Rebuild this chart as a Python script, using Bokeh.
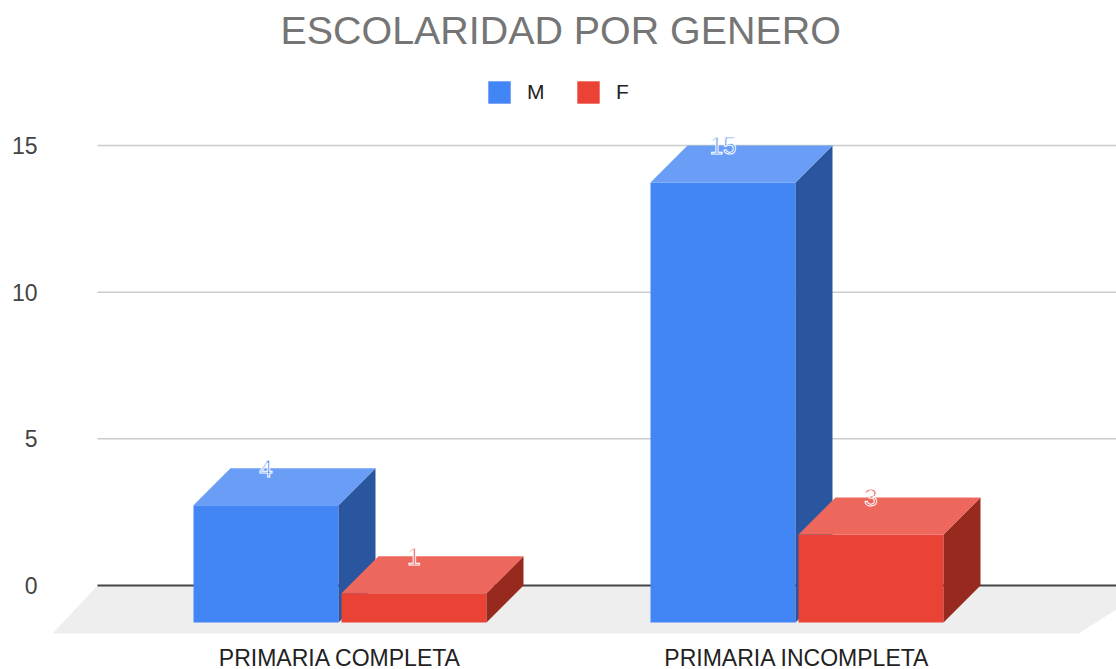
from bokeh.plotting import figure
from bokeh.models import ColumnDataSource, Range1d, FixedTicker, Legend, LegendItem
from bokeh.embed import file_html
from bokeh.resources import INLINE

categories = ["PRIMARIA COMPLETA", "PRIMARIA INCOMPLETA"]
series_m = [4, 15]
series_f = [1, 3]
y_ticks = [0, 5, 10, 15]
title_text = "ESCOLARIDAD POR GENERO"

W, H = 1116, 673
FL, FR, FT, FB = 40, 1116, 56, 637   # plot frame in page pixels
CX0, CSTEP = 339.5, 457.0            # pixel centre of the first group, group step
Y0, PXY = 585.0, 29.33               # pixel of value 0, pixels per unit
BW = 145.0 / CSTEP                   # bar width in x units
GAP = 3.0 / CSTEP
DX = 37.0 / CSTEP                    # 3-D depth, x units
DY = 37.0 / PXY                      # 3-D depth, y units

p = figure(width=W, height=H, output_backend="svg", toolbar_location=None,
           x_range=Range1d((FL - CX0) / CSTEP, (FR - CX0) / CSTEP),
           y_range=Range1d((Y0 - FB) / PXY, (Y0 - FT) / PXY),
           min_border_left=FL, min_border_right=0, min_border_top=FT, min_border_bottom=H - FB,
           outline_line_color=None, margin=(0, 0, -4, 0))

p.title.text = title_text
p.title.text_font = "Liberation Sans"
p.title.text_font_size = "39.4px"
p.title.text_font_style = "normal"
p.title.text_color = "#757575"
p.title.align = "left"
p.title.offset = 240

# axes
n = len(categories)
p.xaxis.ticker = FixedTicker(ticks=list(range(n)))
p.xaxis.major_label_overrides = {i: c for i, c in enumerate(categories)}
p.xaxis.axis_line_color = None
p.xaxis.major_tick_line_color = None
p.xaxis.minor_tick_line_color = None
p.xaxis.major_tick_out = 0
p.xaxis.minor_tick_out = 0
p.xaxis.major_label_text_font = "Liberation Sans"
p.xaxis.major_label_text_font_size = "23px"
p.xaxis.major_label_text_color = "#222222"
p.xaxis.major_label_standoff = 7

p.yaxis.ticker = FixedTicker(ticks=y_ticks)
p.yaxis.axis_line_color = None
p.yaxis.major_tick_line_color = None
p.yaxis.minor_tick_line_color = None
p.yaxis.major_tick_out = 0
p.yaxis.minor_tick_out = 0
p.yaxis.major_label_text_font = "Liberation Sans"
p.yaxis.major_label_text_font_size = "23px"
p.yaxis.major_label_text_color = "#444444"
p.yaxis.major_label_standoff = 3

p.xgrid.visible = False
p.ygrid.visible = False

gx0, gx1 = (97 - CX0) / CSTEP, (FR - CX0) / CSTEP

# floor
fx_back_r = (FR + 38 - CX0) / CSTEP
fx_front_l, fx_front_r = (52 - CX0) / CSTEP, (1078 - CX0) / CSTEP
fy_front = (Y0 - 633) / PXY
p.patch([gx0, fx_back_r, fx_front_r, fx_front_l], [0, 0, fy_front, fy_front],
        fill_color="#eeeeee", line_color=None)

# gridlines, then the dark zero line
grid_vals = [t for t in y_ticks if t != 0]
p.segment([gx0] * len(grid_vals), grid_vals, [gx1] * len(grid_vals), grid_vals,
          line_color="#cccccc", line_width=1.5)
p.segment([gx0], [0], [gx1], [0], line_color="#444444", line_width=2)


def faces(values, offset, front, top, side):
    src_front = ColumnDataSource(dict(
        left=[i + offset for i in range(n)],
        right=[i + offset + BW for i in range(n)],
        top=[v - DY for v in values],
        bottom=[-DY] * n))
    r = p.quad(left="left", right="right", top="top", bottom="bottom", source=src_front,
               fill_color=front, line_color=None)
    xs_top, ys_top, xs_side, ys_side = [], [], [], []
    for i, v in enumerate(values):
        l, rr = i + offset, i + offset + BW
        xs_top.append([l, rr, rr + DX, l + DX])
        ys_top.append([v - DY, v - DY, v, v])
        xs_side.append([rr, rr + DX, rr + DX, rr])
        ys_side.append([-DY, 0, v, v - DY])
    p.patches(xs_side, ys_side, fill_color=side, line_color=None)
    p.patches(xs_top, ys_top, fill_color=top, line_color=None)
    lab = ColumnDataSource(dict(x=[i + offset + BW / 2 for i in range(n)], y=values,
                                t=[str(v) for v in values]))
    return r, lab, front


r_m, lab_m, col_m = faces(series_m, -GAP / 2 - BW, "#4285f4", "#6a9df6", "#2a56a0")
r_f, lab_f, col_f = faces(series_f, GAP / 2, "#ea4335", "#ee675d", "#98291f")

for lab, col in ((lab_m, col_m), (lab_f, col_f)):
    p.text(x="x", y="y", text="t", source=lab, text_color=col, text_font_size="24px",
           text_align="center", text_baseline="middle", text_font={"value": "Liberation Sans"},
           text_outline_color="white")

legend = Legend(items=[LegendItem(label="M", renderers=[r_m]), LegendItem(label="F", renderers=[r_f])],
                orientation="horizontal", border_line_color=None,
                background_fill_alpha=0, glyph_width=28, glyph_height=28, label_standoff=14,
                spacing=27, padding=0, margin=0, label_text_font="Liberation Sans",
                label_text_font_size="21px", label_text_color="#222222")
legend.location = (485 - FL, FB - 106)
p.add_layout(legend, "center")

open("out.html", "w").write(file_html(p, INLINE))
